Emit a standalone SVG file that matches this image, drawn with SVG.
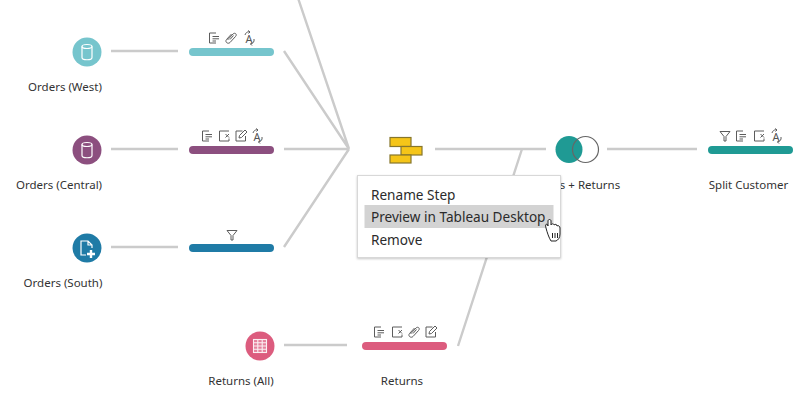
<svg xmlns="http://www.w3.org/2000/svg" width="800" height="400" viewBox="0 0 800 400">
<style>
  text { font-family: "Noto Sans", "Open Sans", "DejaVu Sans", sans-serif; fill: #333; }
  .label { font-size: 11.5px; text-anchor: middle; }
  .menu { font-size: 13.6px; fill: #2b2b2b; }
  .wire { stroke: #cbcbcb; stroke-width: 2.4; fill: none; }
  .bar { stroke: none; }
  .glyph { fill: none; stroke: #fff; stroke-width: 1.2; }
  .ico { fill: none; stroke: #5c5c5c; stroke-width: 1; stroke-linejoin: round; }
  .ico-a { font-size: 11px; fill: #555; text-anchor: middle; }
</style>
<defs>
  <g id="i-columns"><path class="ico" d="M2 -5H-4.500V5H2M-1.500 -1.500H5M-1.500 0.800H5M-1.500 3H2"/></g>
  <g id="i-remove"><path class="ico" d="M5 -5H-4.500V5H5V2.500M1.500 -2L5 1.500M5 -2L1.500 1.500"/></g>
  <g id="i-clip"><path class="ico" d="M-3.500 2.500L2 -3.500C4 -5.500 6.500 -3 4.500 -1L-1 5C-3 7 -6.500 4.500 -4.500 2L0.500 -3.500M-1 2L2.500 -2" transform="translate(0,-0.500)"/></g>
  <g id="i-edit"><path class="ico" d="M1.500 -5H-5V5H4.500V0M-2 2L-1.500 -0.500L4 -6L6 -4L0.500 1.500Z"/></g>
  <g id="i-rename"><text class="ico-a" x="0" y="4.500">A</text><path class="ico" d="M-4 -3C-3 -6 -1 -6.500 1 -6M-1 -7.500L1 -6L-0.500 -4.500M5 1C5.500 4 4 5.500 1.500 6M3 4.500L1.500 6L3 7.500"/></g>
  <g id="i-filter"><path class="ico" d="M-5 -4.500H5L1 0.500V5H-1V0.500Z"/></g>
  <g id="i-db"><ellipse class="glyph" cx="0" cy="-5.500" rx="5" ry="2"/><path class="glyph" d="M-5 -5.500V5.500C-5 8.500 5 8.500 5 5.500V-5.500"/></g>
  <filter id="menu-shadow" x="-5%" y="-5%" width="110%" height="115%">
    <feDropShadow dx="0" dy="1" stdDeviation="1.200" flood-color="#000" flood-opacity="0.220"/>
  </filter>
</defs>

<g id="connectors">
  <path class="wire" d="M111 51H178M284 51L349 149M298 -2L349 149"/>
  <path class="wire" d="M111 149H178M284 149H349M284 247L349 149"/>
  <path class="wire" d="M111 247H178"/>
  <path class="wire" d="M435 149H546M607 149H697"/>
  <path class="wire" d="M522 149L458 346M284 345H347"/>
</g>

<g id="orders-west">
  <circle cx="87" cy="52" r="14.500" fill="#76c5cd"/>
  <use href="#i-db" x="87" y="52"/>
  <text class="label" x="65" y="91">Orders (West)</text>
</g>
<g id="clean-west">
  <rect class="bar" x="189" y="48" width="85" height="8" rx="4" fill="#76c5cd"/>
  <use href="#i-columns" x="214" y="38"/><use href="#i-clip" x="231" y="38"/><use href="#i-rename" x="249" y="38"/>
</g>

<g id="orders-central">
  <circle cx="87" cy="150" r="14.500" fill="#8c4f7f"/>
  <use href="#i-db" x="87" y="150"/>
  <text class="label" x="59" y="189">Orders (Central)</text>
</g>
<g id="clean-central">
  <rect class="bar" x="189" y="146" width="85" height="8" rx="4" fill="#8c4f7f"/>
  <use href="#i-columns" x="207" y="136"/><use href="#i-remove" x="224" y="136"/><use href="#i-edit" x="241" y="136"/><use href="#i-rename" x="257" y="136"/>
</g>

<g id="orders-south">
  <circle cx="87" cy="248" r="14.500" fill="#1f7ba6"/>
  <path class="glyph" d="M86 255H81V241H88L92 245V248M88 241V245H92"/>
  <path d="M91 250V258M87 254H95" stroke="#fff" stroke-width="2.400" fill="none"/>
  <text class="label" x="63" y="287">Orders (South)</text>
</g>
<g id="clean-south">
  <rect class="bar" x="189" y="244" width="85" height="8" rx="4" fill="#1f7ba6"/>
  <use href="#i-filter" x="232" y="235"/>
</g>

<g id="returns-all">
  <circle cx="260" cy="346" r="14.500" fill="#dc5c7e"/>
  <g stroke="#fff" stroke-width="1.100" fill="none" opacity="0.900">
    <rect x="253.500" y="339.500" width="13" height="13" fill="#fff" fill-opacity="0.250"/>
    <path d="M253.500 342.800H266.500M253.500 346H266.500M253.500 349.300H266.500M257.800 339.500V352.500M262.200 339.500V352.500"/>
  </g>
  <text class="label" x="241" y="385">Returns (All)</text>
</g>
<g id="clean-returns">
  <rect class="bar" x="362" y="342" width="85" height="8" rx="4" fill="#dc5c7e"/>
  <use href="#i-columns" x="379" y="332"/><use href="#i-remove" x="397" y="332"/><use href="#i-clip" x="414" y="332"/><use href="#i-edit" x="431" y="332"/>
  <text class="label" x="402" y="385">Returns</text>
</g>

<g id="union-step">
  <g fill="#f5c518" stroke="#86762c" stroke-width="1.200">
    <rect x="390" y="137.500" width="21" height="9"/>
    <rect x="401" y="146.500" width="21" height="8.500"/>
    <rect x="390" y="155" width="21" height="8"/>
  </g>
</g>

<g id="join-step">
  <circle cx="569" cy="149.500" r="13.500" fill="#1f9a94"/>
  <circle cx="585.500" cy="149.500" r="13" fill="none" stroke="#666" stroke-width="1.200"/>
  <text class="label" x="590" y="189">s + Returns</text>
</g>

<g id="split-customer">
  <rect class="bar" x="708" y="146" width="85" height="8" rx="4" fill="#1f9a94"/>
  <use href="#i-filter" x="725" y="136"/><use href="#i-columns" x="741" y="136"/><use href="#i-remove" x="759" y="136"/><use href="#i-rename" x="776" y="136"/>
  <text class="label" x="748.500" y="189">Split Customer</text>
</g>

<g id="context-menu">
  <rect x="357.500" y="175.500" width="203" height="82" fill="#fff" stroke="#d8d8d8" filter="url(#menu-shadow)"/>
  <rect x="364.500" y="205" width="189" height="23" fill="#d3d3d3"/>
  <text class="menu" x="371" y="199.500">Rename Step</text>
  <text class="menu" x="371" y="222">Preview in Tableau Desktop</text>
  <text class="menu" x="371" y="244.500">Remove</text>
  <path d="M546 228C545 225 546 224 547 224L548 226L548 221C548 219 551 219 551 221L551 225C552 223 554 224 554 225C555 224 557 224 557 226C558 225 560 226 560 228L560 234C560 238 558 240 556 241L551 241C549 238 547 232 546 228Z" fill="#fff" stroke="#222" stroke-width="1"/>
  <path d="M552.500 233V238M555 233V238M557.500 233V238" stroke="#222" stroke-width="1" fill="none"/>
</g>
</svg>
